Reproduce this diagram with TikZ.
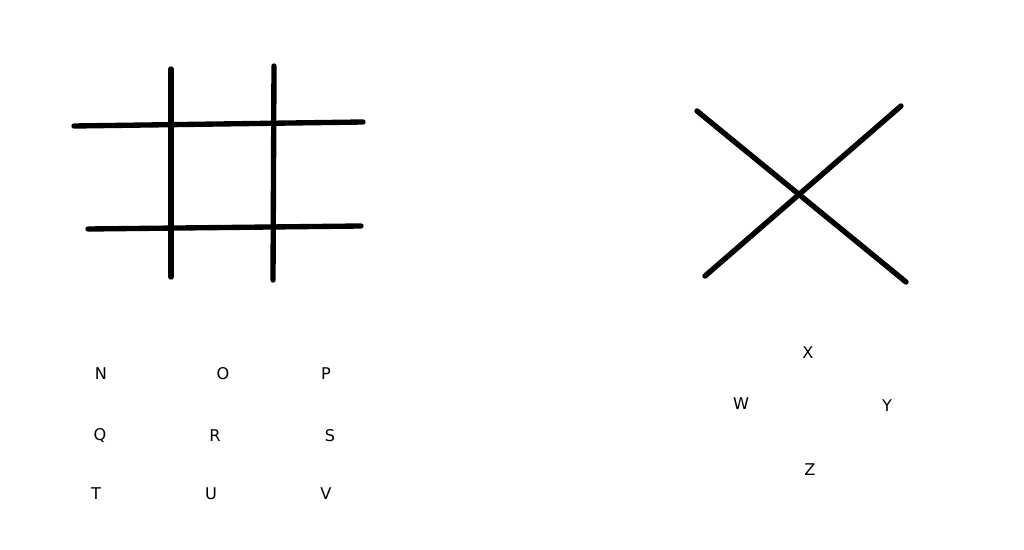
\documentclass[tikz,border=0pt]{standalone}
\usepackage{fontspec}
\setmainfont{DejaVu Sans}
\usepackage{tikz}

\begin{document}
\begin{tikzpicture}[
  x=0.025cm, y=-0.025cm,
  bar/.style={line width=3.8pt, line cap=round, color=black},
  lbl/.style={font=\fontsize{11.5}{13}\selectfont, inner sep=0pt},
]
% Canvas
\useasboundingbox (0,0) rectangle (1024,550);

% Grid
\coordinate (h1a) at (74,126);  \coordinate (h1b) at (363,122);
\coordinate (h2a) at (88,229);  \coordinate (h2b) at (361,226);
\coordinate (v1a) at (171,69);  \coordinate (v1b) at (171,277);
\coordinate (v2a) at (274,66);  \coordinate (v2b) at (273,280);
\draw[bar] (h1a) -- (h1b);
\draw[bar] (h2a) -- (h2b);
\draw[bar] (v1a) -- (v1b);
\draw[bar] (v2a) -- (v2b);

% Cross
\coordinate (c1a) at (697,111); \coordinate (c1b) at (906,282);
\coordinate (c2a) at (705,276); \coordinate (c2b) at (901,106);
\draw[bar] (c1a) -- (c1b);
\draw[bar] (c2a) -- (c2b);

% Grid letters
\node[lbl] (n) at (101,374) {N};
\node[lbl] (o) at (223,374) {O};
\node[lbl] (p) at (326,374) {P};
\node[lbl] (q) at (100,436) {Q};
\node[lbl] (r) at (215,436) {R};
\node[lbl] (s) at (330,436) {S};
\node[lbl] (t) at (96,494) {T};
\node[lbl] (u) at (211,494) {U};
\node[lbl] (v) at (326,494) {V};

% Cross letters
\node[lbl] (x) at (808,353) {X};
\node[lbl] (w) at (741,404) {W};
\node[lbl] (y) at (887,406) {Y};
\node[lbl] (z) at (810,470) {Z};
\end{tikzpicture}
\end{document}
